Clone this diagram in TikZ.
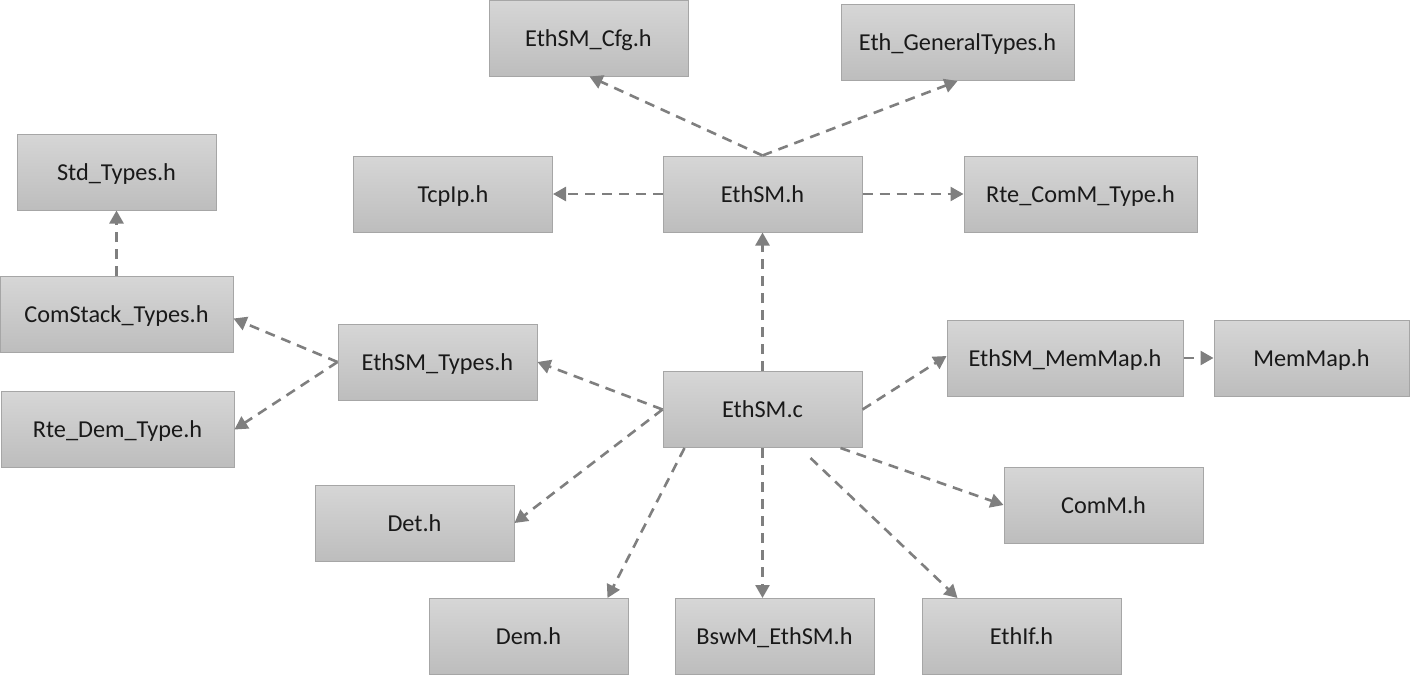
\documentclass[tikz,border=0pt]{standalone}
\usepackage{fontspec}
\setmainfont{Carlito}
\usetikzlibrary{arrows.meta}
\definecolor{boxtop}{HTML}{D6D6D6}
\definecolor{boxbot}{HTML}{BDBDBD}
\definecolor{boxline}{HTML}{A6A6A6}
\definecolor{arrowc}{HTML}{7F7F7F}
\tikzset{
  filebox/.style={draw=boxline, line width=1pt, top color=boxtop, bottom color=boxbot,
    minimum height=76pt, minimum width=199pt, inner sep=0pt,
    text height=18pt, text depth=2pt,
    font=\fontsize{24.3}{28}\selectfont, text=black!90},
  dep/.style={draw=arrowc, line width=2.6pt, dash pattern=on 10pt off 7pt,
    -{Triangle[length=13pt,width=14pt]}}
}
\begin{document}
\begin{tikzpicture}[x=1pt,y=-1pt]
\useasboundingbox (0,0) rectangle (1410,675);
\node[filebox] (cfg) at (588.5,38) {EthSM\_Cfg.h};
\node[filebox, minimum width=233pt] (gen) at (957.5,42.5) {Eth\_GeneralTypes.h};
\node[filebox] (std) at (116.5,172) {Std\_Types.h};
\node[filebox] (tcp) at (453,194) {TcpIp.h};
\node[filebox] (ethh) at (762.5,194) {EthSM.h};
\node[filebox, minimum width=233pt] (rtecomm) at (1080.5,194) {Rte\_ComM\_Type.h};
\node[filebox, minimum width=233pt] (comstack) at (116.5,314.5) {ComStack\_Types.h};
\node[filebox] (types) at (437.5,362) {EthSM\_Types.h};
\node[filebox, minimum width=233pt] (rtedem) at (117.5,429.5) {Rte\_Dem\_Type.h};
\node[filebox] (ethc) at (762.5,409.5) {EthSM.c};
\node[filebox, minimum width=236pt] (memmapE) at (1065,358) {EthSM\_MemMap.h};
\node[filebox, minimum width=195pt] (memmap) at (1311.5,358) {MemMap.h};
\node[filebox] (det) at (414.5,523) {Det.h};
\node[filebox] (comm) at (1103.5,505) {ComM.h};
\node[filebox] (dem) at (528.5,636.5) {Dem.h};
\node[filebox] (bswm) at (774.5,636.5) {BswM\_EthSM.h};
\node[filebox] (ethif) at (1021.5,636.5) {EthIf.h};

\draw[dep] (ethh.north) -- ([xshift=1pt]cfg.south);
\draw[dep] (ethh.north) -- (gen.south);
\draw[dep] (ethh.west) -- (tcp.east);
\draw[dep] (ethh.east) -- (rtecomm.west);
\draw[dep] (ethc.north) -- (ethh.south);
\draw[dep] (comstack.north) -- (std.south);
\draw[dep] (types.west) -- ([yshift=-4pt]comstack.east);
\draw[dep] (types.west) -- (rtedem.east);
\draw[dep] (ethc.west) -- (types.east);
\draw[dep] (ethc.west) -- (det.east);
\draw[dep] ([xshift=22pt]ethc.south west) -- ([xshift=-21pt]dem.north east);
\draw[dep] (ethc.south) -- (ethc.south |- bswm.north);
\draw[dep] ([xshift=-52pt,yshift=-10pt]ethc.south east) -- ([xshift=36pt]ethif.north west);
\draw[dep] ([xshift=-22pt]ethc.south east) -- (comm.west);
\draw[dep] (ethc.east) -- ([yshift=2pt]memmapE.west);
\draw[dep] (memmapE.east) -- (memmap.west);
\end{tikzpicture}
\end{document}
